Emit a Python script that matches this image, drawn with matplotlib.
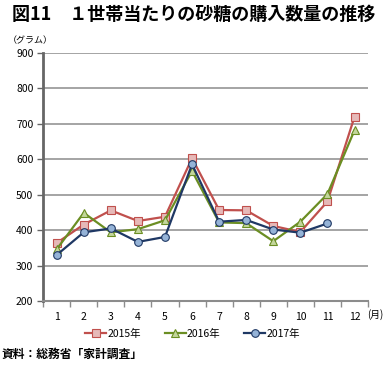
import matplotlib.pyplot as plt
import numpy as np

plt.rcParams['font.family'] = ['Noto Sans CJK JP', 'DejaVu Sans']

months = list(range(1, 13))
month_labels = [str(m) for m in months]
sugar_2015 = [364, 416, 456, 426, 438, 603, 457, 456, 412, 395, 481, 720]
sugar_2016 = [346, 449, 394, 403, 428, 567, 422, 420, 369, 424, 502, 682]
sugar_2017 = [330, 394, 405, 367, 381, 586, 424, 429, 402, 393, 419]
yticks = [200, 300, 400, 500, 600, 700, 800, 900]

fig = plt.figure(figsize=(3.85, 3.65), dpi=100)
ax = fig.add_axes([0.112, 0.175, 0.844, 0.68])

ax.grid(axis='y', color='#8c8c8c', linewidth=1.1)
ax.set_axisbelow(True)

ax.plot(months, sugar_2015, color='#C0504D', lw=1.6, marker='s', ms=5.5,
        mfc='#E6B9B8', mec='#C0504D', mew=0.8, label='2015年', zorder=3)
ax.plot(months, sugar_2016, color='#6B8E23', lw=1.6, marker='^', ms=6,
        mfc='#C3D69B', mec='#6B8E23', mew=0.8, label='2016年', zorder=3)
ax.plot(months[:len(sugar_2017)], sugar_2017, color='#1F3864', lw=1.6, marker='o', ms=5.5,
        mfc='#95B3D7', mec='#1F3864', mew=0.8, label='2017年', zorder=4)

ax.set_xlim(0.5, 12.5)
ax.set_ylim(200, 900)
ax.set_yticks(yticks)
ax.set_xticks(months)
ax.set_xticklabels(month_labels)
ax.set_xticks(np.arange(0.5, 13, 1), minor=True)
ax.tick_params(axis='x', which='major', length=0, pad=8, labelsize=7.5)
ax.tick_params(axis='x', which='minor', length=4, color='#8c8c8c', width=1)
ax.tick_params(axis='y', length=4, color='#666666', width=1, labelsize=7.5, pad=3)

for s in ['top', 'right']:
    ax.spines[s].set_visible(False)
ax.spines['left'].set_color('#666666')
ax.spines['left'].set_linewidth(2)
ax.spines['bottom'].set_color('#8c8c8c')
ax.spines['bottom'].set_linewidth(1.5)

fig.text(0.03, 0.96, '図11　１世帯当たりの砂糖の購入数量の推移', fontsize=13,
         fontweight='bold', va='center', ha='left')
fig.text(0.02, 0.89, '（グラム）', fontsize=6.5, va='center', ha='left')
fig.text(0.995, 0.137, '(月)', fontsize=7, va='center', ha='right')
fig.text(0.005, 0.03, '資料：総務省「家計調査」', fontsize=8.5, fontweight='bold',
         va='center', ha='left')

fig.legend(loc='center', bbox_to_anchor=(0.5, 0.085), ncol=3, frameon=False,
           fontsize=7.5, handlelength=2.0, columnspacing=2.3, handletextpad=0.1)

fig.savefig('out.png', dpi=100)
